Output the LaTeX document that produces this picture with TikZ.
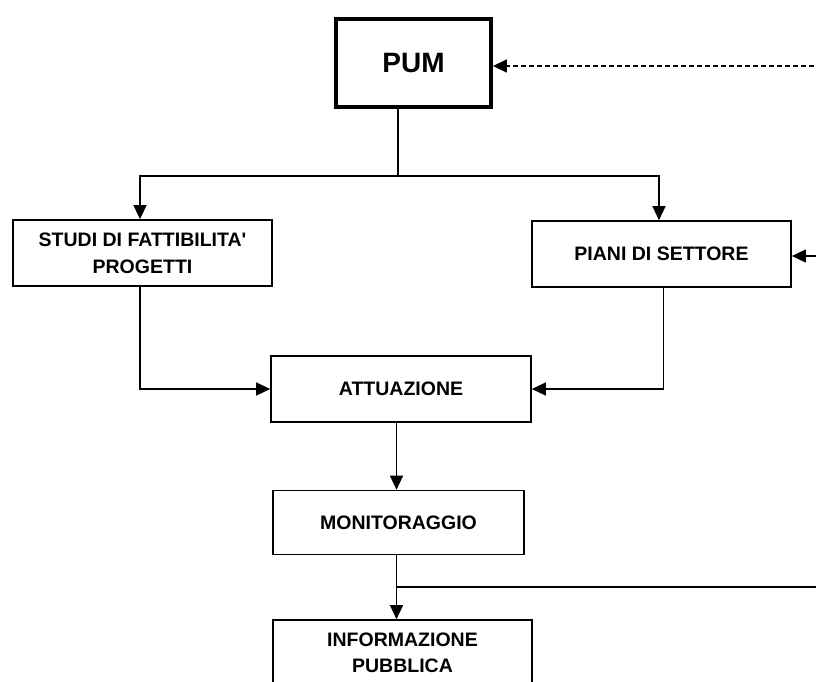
\documentclass[tikz,border=0pt]{standalone}
\usepackage{fontspec}
\setmainfont{Liberation Sans}
\newfontfamily\plainapos{Liberation Sans}
\usetikzlibrary{arrows.meta}
\begin{document}
\begin{tikzpicture}[x=1pt,y=-1pt,
  box/.style={draw, line width=1.7pt, align=center, font=\fontsize{19.5}{27}\selectfont\bfseries, inner sep=0pt},
  pumbox/.style={draw, line width=3.8pt, align=center, font=\fontsize{28}{32}\selectfont\bfseries, inner sep=0pt, minimum width=155pt, minimum height=88pt},
  conn/.style={line width=1.4pt},
  arr/.style={conn, -{Triangle[length=14pt,width=13pt]}}
]
\useasboundingbox (0,0) rectangle (816,681);
\clip (0,0) rectangle (816,681);

\node[pumbox] (pum) at (413.5,63) {PUM};
\node[box, minimum width=259pt, minimum height=66pt] (studi) at (142.5,253) {STUDI DI FATTIBILITA{\plainapos\bfseries '}\\PROGETTI};
\node[box, minimum width=259pt, minimum height=66pt] (piani) at (661.5,254) {PIANI DI SETTORE};
\node[box, minimum width=260pt, minimum height=66pt] (attu) at (401,389) {ATTUAZIONE};
\node[box, minimum width=251pt, minimum height=64pt] (moni) at (398.5,522.5) {MONITORAGGIO};
\node[box, minimum width=259pt, minimum height=80pt] (info) at (402.5,660) {};
\node[font=\fontsize{19.5}{26}\selectfont\bfseries, align=center, inner sep=0pt] (infotxt) at (402.5,653) {INFORMAZIONE\\PUBBLICA};

\coordinate (fork) at (398,176);
\coordinate (fbPUM) at (830,66);
\coordinate (fbPiani) at (830,256);
\coordinate (exitR) at (830,587);

\draw[conn] (pum.south -| fork) -- (fork);
\draw[arr] (fork) -| ([xshift=-2.5pt]studi.north);
\draw[arr] (fork) -| ([xshift=-2.5pt]piani.north);
\draw[arr] ([xshift=-2.5pt]studi.south) |- (attu.west);
\draw[arr] ([xshift=2pt]piani.south) |- (attu.east);
\draw[arr] ([xshift=-2pt]moni.north |- attu.south) -- ([xshift=-2pt]moni.north);
\draw[arr] ([xshift=-2pt]moni.south) -- ([xshift=-2pt]moni.south |- info.north);
\draw[conn] ([xshift=-2pt]moni.south |- exitR) -- (exitR);
\draw[arr, dash pattern=on 5pt off 3pt] (fbPUM) -- (fbPUM -| pum.east);
\draw[arr] (fbPiani) -- (fbPiani -| piani.east);
\end{tikzpicture}
\end{document}
